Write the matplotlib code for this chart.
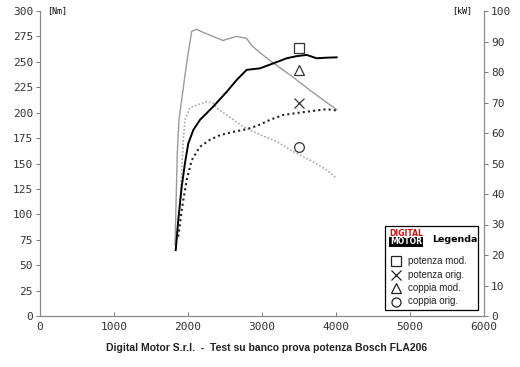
import numpy as np
import matplotlib.pyplot as plt

# coppia mod. [Nm]
cm_rpm = [1825, 1855, 1878, 1932, 1982, 2050, 2118, 2203, 2338, 2473, 2560, 2658, 2793,
          2861, 2973, 3149, 3419, 3649, 3874, 4009]
cm_nm = [70, 160, 193, 222, 249, 280, 282, 279, 275, 271, 273, 275, 273,
         266, 259, 249, 235, 222, 210, 203]

# potenza mod. [kW]
pm_rpm = [1834, 1869, 1915, 1959, 2004, 2072, 2162, 2338, 2523, 2658, 2793, 2973,
          3149, 3334, 3469, 3604, 3739, 3874, 4009]
pm_kw = [21.6, 31.5, 42.4, 50.1, 56.6, 61.0, 64.3, 68.6, 73.5, 77.4, 80.7, 81.2,
         82.8, 84.5, 85.2, 85.6, 84.5, 84.7, 84.8]

# coppia orig. [Nm]
co_rpm = [1847, 1892, 1915, 1936, 1959, 2027, 2118, 2253, 2338, 2405, 2523, 2743,
          2973, 3199, 3419, 3649, 3874, 4009]
co_nm = [78, 111, 144, 173, 193, 205, 207.5, 210.8, 209.5, 203.6, 197.7, 186.3,
         178.2, 171.6, 161.8, 153.4, 143.6, 135.4]

# potenza orig. [kW]
po_rpm = [1869, 1915, 1982, 2050, 2162, 2297, 2432, 2600, 2800, 2928, 3108, 3284,
          3514, 3739, 3874, 4009]
po_kw = [26, 34.8, 44.6, 51.1, 55.5, 57.8, 59.3, 60.3, 61.3, 62.3, 64.3, 65.9,
         66.7, 67.4, 67.8, 67.4]

# segni di riconoscimento sulle curve
mark_rpm = 3500
mark_nm = [263.6, 242, 209.5, 166]
mark_sym = ['s', '^', 'x', 'o']
leg_labels = ['potenza mod.', 'potenza orig.', 'coppia mod.', 'coppia orig.']
leg_sym = ['s', 'x', '^', 'o']

tickfont = 'DejaVu Sans Mono'

fig = plt.figure(figsize=(5.2, 3.67), dpi=100)
ax = fig.add_axes([40/520, 51/367, 444/520, 305/367])
ax2 = ax.twinx()

ax.plot(cm_rpm, cm_nm, color='#9a9a9a', lw=1.0)
ax.plot(co_rpm, co_nm, color='#a8a8a8', lw=1.2, ls=(0, (1, 1.2)))
ax2.plot(pm_rpm, pm_kw, color='black', lw=1.4)
ax2.plot(po_rpm, po_kw, color='#222222', lw=1.5, ls=(0, (1, 1.5)))

for v, m in zip(mark_nm, mark_sym):
    ax.plot(mark_rpm, v, marker=m, ms=7, mfc='none', mec='#333333', mew=0.9, ls='none')

ax.set_xlim(0, 6000)
ax.set_ylim(0, 300)
ax2.set_ylim(0, 100)
ax.set_xticks(np.arange(0, 6001, 1000))
ax.set_yticks(np.arange(0, 301, 25))
ax2.set_yticks(np.arange(0, 101, 10))

for a in (ax, ax2):
    a.spines['top'].set_visible(False)
    for s in a.spines.values():
        s.set_color('#888888')
        s.set_linewidth(0.8)
    a.tick_params(length=3, width=0.7, color='#777777', labelsize=8, pad=2,
                  labelcolor='#333333')
    for lab in a.get_xticklabels() + a.get_yticklabels():
        lab.set_family(tickfont)
ax.tick_params(axis='x', direction='in', pad=4)

fig.text(47/520, 1 - 11/367, '[Nm]', fontsize=6, family=tickfont, va='center', ha='left')
fig.text(472/520, 1 - 11/367, '[kW]', fontsize=6, family=tickfont, va='center', ha='right')

fig.text(267/520, 1 - 348/367,
         'Digital Motor S.r.l.  -  Test su banco prova potenza Bosch FLA206',
         fontsize=7.5, family='Liberation Sans', weight='bold', ha='center', va='center',
         color='#222222')

# legenda
box = plt.Rectangle((385/520, 1 - 310/367), 93/520, 84/367, transform=fig.transFigure,
                    fc='white', ec='black', lw=0.9, zorder=5)
fig.add_artist(box)
fig.text(406/520, 1 - 234/367, 'DIGITAL', fontsize=5.5, weight='bold', color='#d01010',
         ha='center', va='center', family='DejaVu Sans', zorder=6)
fig.text(406/520, 1 - 242/367, 'MOTOR', fontsize=5.5, weight='bold', color='white',
         ha='center', va='center', family='DejaVu Sans', zorder=6,
         bbox=dict(boxstyle='square,pad=0.1', fc='black', ec='none'))
fig.text(432/520, 1 - 240/367, 'Legenda', fontsize=6.8, weight='bold',
         family='Liberation Sans Narrow', ha='left', va='center', zorder=6)
for i, (lab, m) in enumerate(zip(leg_labels, leg_sym)):
    yy = 1 - (261 + 13.5 * i) / 367
    fig.add_artist(plt.Line2D([396/520], [yy], marker=m, ms=6.5, mfc='none', mec='#222222',
                              mew=0.9, transform=fig.transFigure, zorder=6))
    fig.text(408/520, yy, lab, fontsize=7, family='Liberation Sans', ha='left',
             va='center', color='#222222', zorder=6)

fig.savefig('out.png', dpi=100)
